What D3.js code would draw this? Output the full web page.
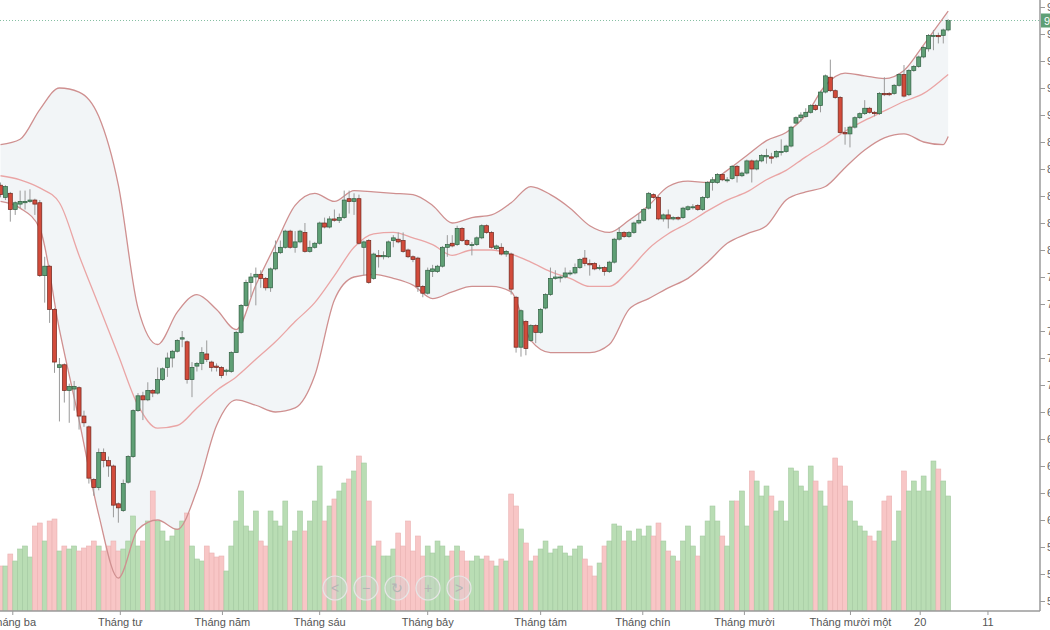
<!DOCTYPE html>
<html>
<head>
<meta charset="utf-8">
<script src="https://cdn.jsdelivr.net/npm/d3@7"></script>
<style>
  html, body { margin: 0; padding: 0; background: #fff; overflow: hidden; }
  svg { display: block; font-family: "Liberation Sans", Arial, sans-serif; }
</style>
</head>
<body>
<svg id="chart" width="1050" height="630"></svg>
<script>
// ---- daily candles (index 0 = first visible session) ----
const open = [
  84.8, 83.9, 84.2, 83.0, 83.4, 83.5, 83.6, 83.7, 83.5, 78.1,
  78.8, 75.6, 71.3, 71.5, 69.6, 69.7, 69.8, 67.7, 66.9, 63.0,
  62.4, 65.0, 64.4, 64.0, 61.2, 60.7, 62.8, 64.7, 68.1, 69.2,
  68.9, 69.6, 69.4, 70.4, 71.3, 72.0, 72.5, 73.4, 73.2, 70.4,
  71.4, 71.6, 72.3, 71.7, 71.4, 71.3, 71.0, 71.0, 72.4, 73.9,
  75.9, 77.6, 78.0, 78.2, 77.9, 77.2, 78.6, 79.8, 80.2, 81.4,
  80.2, 80.6, 81.3, 79.9, 80.2, 80.5, 82.0, 81.7, 82.3, 82.2,
  82.4, 83.8, 83.6, 83.8, 80.2, 80.7, 77.9, 79.6, 79.5, 79.5,
  80.7, 80.8, 80.7, 80.0, 79.5, 79.4, 77.3, 76.8, 78.4, 78.4,
  78.8, 80.2, 80.5, 80.4, 81.6, 80.7, 80.4, 80.4, 80.9, 81.8,
  81.3, 80.1, 80.2, 79.7, 79.7, 76.5, 72.8, 74.7, 73.3, 74.4,
  73.9, 75.7, 76.7, 77.9, 78.0, 78.0, 78.3, 78.3, 78.7, 79.4,
  79.0, 79.0, 78.7, 78.7, 78.4, 79.1, 80.8, 81.3, 81.0, 81.3,
  82.0, 82.2, 83.1, 84.1, 83.9, 82.3, 82.6, 82.3, 82.4, 82.4,
  83.0, 83.2, 83.3, 83.0, 83.9, 85.0, 85.0, 85.6, 85.2, 85.3,
  86.2, 85.5, 85.7, 86.6, 86.0, 86.6, 86.9, 86.9, 86.9, 87.3,
  87.3, 87.7, 89.4, 89.8, 89.9, 90.2, 90.7, 90.7, 91.7, 92.8,
  91.8, 91.3, 88.7, 88.6, 89.1, 89.8, 90.1, 90.5, 90.2, 90.1,
  91.6, 91.6, 91.6, 92.2, 93.0, 91.5, 93.3, 93.6, 94.3, 94.9,
  95.9, 95.9, 95.9, 96.3
];
const high = [
  85.0, 84.8, 84.3, 83.6, 84.4, 84.4, 84.5, 83.8, 83.7, 79.5,
  78.9, 75.7, 72.0, 71.6, 70.1, 70.3, 69.9, 68.1, 67.0, 63.1,
  65.3, 65.3, 64.7, 64.1, 61.3, 63.0, 64.8, 68.2, 69.4, 69.5,
  70.2, 69.7, 71.3, 71.3, 72.4, 72.6, 73.4, 74.0, 73.3, 71.7,
  71.7, 72.8, 73.3, 71.8, 71.6, 71.4, 71.2, 72.5, 74.0, 76.0,
  77.8, 78.3, 78.7, 78.5, 78.0, 78.7, 80.7, 80.7, 81.5, 81.5,
  81.4, 81.5, 82.0, 80.7, 80.6, 82.1, 82.4, 82.5, 83.0, 82.7,
  84.4, 84.4, 84.2, 84.1, 80.7, 80.8, 79.8, 80.0, 79.9, 80.7,
  81.1, 81.3, 81.3, 80.1, 79.6, 79.5, 77.4, 78.7, 78.9, 78.9,
  80.3, 81.1, 81.1, 81.8, 81.7, 80.8, 80.6, 81.0, 81.9, 81.9,
  81.4, 80.4, 80.5, 80.0, 79.8, 76.6, 75.6, 74.8, 74.5, 74.5,
  75.7, 76.8, 78.7, 78.5, 78.1, 78.7, 78.5, 79.0, 79.4, 80.0,
  79.3, 79.1, 78.9, 78.8, 79.2, 80.9, 81.7, 81.4, 81.4, 82.1,
  82.7, 83.1, 84.3, 84.2, 84.0, 82.7, 83.0, 82.5, 82.5, 83.2,
  83.3, 83.4, 83.4, 84.0, 85.1, 85.4, 85.7, 85.7, 85.4, 86.3,
  86.3, 85.8, 86.7, 86.7, 86.7, 87.1, 87.5, 87.2, 87.4, 88.2,
  87.8, 89.2, 89.9, 90.2, 90.5, 90.8, 90.8, 91.8, 93.0, 94.1,
  91.9, 91.4, 89.1, 89.2, 89.9, 90.2, 91.1, 90.6, 90.3, 91.7,
  92.8, 91.7, 92.3, 93.1, 93.7, 93.4, 93.7, 94.4, 95.1, 96.0,
  96.3, 96.1, 96.4, 97.1
];
const low = [
  83.9, 83.7, 82.1, 82.6, 83.1, 83.0, 83.5, 82.6, 78.0, 76.1,
  74.6, 70.9, 67.3, 68.7, 67.2, 68.1, 66.7, 66.9, 62.7, 61.8,
  62.2, 63.9, 63.2, 60.2, 59.8, 60.6, 62.7, 64.6, 68.0, 67.4,
  68.8, 69.1, 69.3, 70.3, 70.6, 71.3, 72.4, 72.8, 70.1, 69.1,
  71.0, 71.1, 71.7, 71.0, 71.0, 70.5, 70.7, 70.9, 72.4, 73.8,
  75.8, 76.5, 75.9, 77.2, 77.0, 76.9, 78.5, 79.7, 80.1, 80.1,
  79.8, 80.5, 79.8, 79.8, 80.1, 80.4, 81.6, 81.6, 82.1, 82.0,
  82.3, 82.7, 82.6, 80.4, 78.1, 77.5, 77.8, 78.7, 79.3, 79.4,
  80.2, 80.5, 79.8, 79.4, 79.1, 76.9, 76.5, 76.7, 78.0, 78.3,
  78.7, 79.5, 80.2, 80.3, 80.6, 80.3, 79.6, 80.3, 80.8, 81.2,
  80.1, 80.0, 79.6, 79.5, 76.7, 72.4, 72.1, 72.2, 73.2, 73.1,
  73.8, 75.6, 76.6, 77.8, 77.6, 77.9, 78.1, 78.2, 78.6, 78.8,
  78.1, 78.5, 78.5, 78.1, 78.3, 79.0, 80.7, 80.9, 80.9, 81.2,
  81.9, 82.1, 83.0, 83.8, 82.2, 82.1, 81.6, 82.2, 82.2, 82.3,
  82.9, 83.0, 82.9, 82.9, 83.8, 84.4, 84.9, 85.1, 85.0, 85.2,
  85.0, 85.4, 85.6, 85.0, 85.9, 86.5, 86.4, 86.4, 86.8, 87.0,
  87.2, 87.6, 89.3, 89.5, 89.8, 90.1, 90.3, 90.2, 91.6, 91.7,
  91.2, 88.6, 87.8, 87.6, 89.0, 89.7, 90.0, 90.1, 89.9, 90.0,
  91.4, 91.4, 91.5, 92.1, 91.3, 91.4, 93.2, 93.5, 94.2, 94.7,
  94.8, 95.3, 95.3, 96.2
];
const close = [
  84.1, 84.7, 83.0, 83.5, 83.6, 83.6, 83.7, 83.4, 78.1, 78.8,
  75.6, 71.7, 71.5, 69.6, 69.9, 69.9, 67.7, 67.2, 63.1, 62.4,
  65.0, 64.4, 64.0, 61.1, 60.9, 62.7, 64.7, 68.1, 69.2, 68.9,
  69.6, 69.4, 70.4, 71.2, 72.0, 72.5, 73.3, 73.5, 70.4, 71.3,
  71.6, 72.4, 71.9, 71.3, 71.3, 70.7, 71.1, 72.4, 73.9, 75.9,
  77.6, 78.0, 78.2, 77.9, 77.2, 78.6, 79.8, 80.2, 81.4, 80.2,
  80.6, 81.4, 79.9, 80.2, 80.5, 82.0, 81.7, 82.3, 82.2, 82.4,
  83.7, 83.6, 83.8, 80.5, 80.6, 77.6, 79.7, 79.5, 79.6, 80.6,
  80.9, 80.6, 79.9, 79.5, 79.3, 77.3, 76.8, 78.5, 78.6, 78.8,
  80.2, 80.4, 80.3, 81.6, 80.7, 80.4, 80.4, 80.9, 81.8, 81.3,
  80.2, 80.3, 79.7, 79.9, 77.1, 72.8, 75.5, 72.7, 74.4, 73.9,
  75.6, 76.7, 77.9, 78.0, 78.0, 78.3, 78.3, 78.7, 79.3, 79.0,
  78.9, 78.6, 78.7, 78.4, 79.1, 80.8, 81.3, 81.0, 81.3, 82.0,
  82.2, 83.0, 84.2, 83.9, 82.3, 82.6, 82.3, 82.4, 82.3, 83.1,
  83.2, 83.2, 83.0, 83.9, 85.0, 85.2, 85.6, 85.2, 85.2, 86.2,
  85.5, 85.7, 86.6, 86.0, 86.6, 87.0, 87.0, 86.8, 87.3, 87.3,
  87.7, 89.1, 89.8, 90.0, 90.2, 90.7, 90.4, 91.7, 92.9, 91.8,
  91.3, 88.7, 88.6, 89.1, 89.8, 90.1, 90.5, 90.2, 90.1, 91.6,
  91.5, 91.5, 92.2, 93.0, 91.4, 93.3, 93.6, 94.3, 95.0, 95.9,
  95.9, 95.8, 96.3, 97.0
];
const volume = [
  45, 45, 57, 50, 62, 65, 54, 85, 88, 70,
  90, 92, 60, 65, 62, 65, 60, 63, 65, 70,
  65, 60, 65, 70, 60, 62, 70, 95, 65, 70,
  90, 120, 90, 80, 70, 75, 82, 90, 98, 65,
  52, 50, 65, 58, 54, 55, 40, 65, 90, 120,
  85, 80, 100, 70, 65, 100, 90, 85, 110, 70,
  80, 100, 80, 90, 110, 145, 90, 105, 112, 120,
  128, 132, 140, 155, 148, 110, 65, 70, 55, 55,
  62, 78, 65, 90, 60, 75, 55, 65, 58, 70,
  65, 55, 60, 65, 60, 50, 50, 55, 52, 55,
  50, 45, 52, 50, 117, 105, 82, 68, 50, 55,
  62, 70, 58, 62, 65, 58, 55, 62, 65, 52,
  45, 35, 48, 65, 70, 87, 85, 70, 80, 70,
  82, 75, 85, 75, 88, 70, 60, 55, 50, 70,
  85, 65, 55, 75, 90, 105, 90, 75, 65, 110,
  110, 120, 85, 140, 130, 115, 125, 115, 100, 110,
  90, 143, 140, 125, 120, 145, 130, 120, 105, 130,
  153, 145, 125, 110, 90, 85, 80, 75, 70, 80,
  110, 115, 70, 100, 140, 120, 130, 120, 135, 120,
  150, 142, 130, 115
];

// ---- Bollinger bands, read every 4 sessions ----
const bandIdx = [
  0, 4, 8, 12, 16, 20, 24, 28, 32, 36, 40, 44, 48, 52, 56, 60, 64, 68, 72, 76,
  80, 84, 88, 92, 96, 100, 104, 108, 112, 116, 120, 124, 128, 132, 136, 140,
  144, 148, 152, 156, 160, 164, 168, 172, 176, 180, 184, 188, 192, 193
];
const upper = [
  87.8, 88.2, 90.4, 92.0, 91.7, 89.9, 84.8, 75.7, 73.0, 75.4,
  76.7, 75.6, 74.1, 77.4, 80.4, 83.3, 84.2, 83.6, 84.4, 84.3,
  84.2, 84.1, 83.3, 82.0, 82.4, 82.6, 83.5, 84.7, 84.1, 83.1,
  81.8, 81.3, 82.2, 83.3, 84.7, 85.1, 85.0, 85.9, 87.0, 88.1,
  88.7, 90.0, 92.2, 93.1, 92.9, 92.7, 93.3, 95.2, 97.2, 97.7
];
const middle = [
  85.5, 85.2, 84.6, 83.5, 79.6, 75.9, 72.2, 68.5, 66.8, 67.0,
  68.3, 69.6, 70.6, 71.9, 73.2, 74.7, 76.1, 78.1, 80.2, 81.2,
  81.3, 80.9, 80.4, 79.6, 80.0, 80.0, 79.7, 79.1, 78.4, 77.9,
  77.3, 77.3, 78.5, 80.1, 81.2, 82.0, 82.9, 83.7, 84.3, 85.2,
  85.9, 86.9, 87.8, 88.8, 89.6, 90.3, 91.0, 91.6, 92.7, 93.0
];
const lower = [
  83.6, 83.1, 81.6, 74.1, 67.4, 60.4, 55.7, 59.3, 60.0, 59.3,
  62.2, 67.0, 68.9, 68.5, 68.0, 68.3, 70.7, 76.3, 78.0, 78.2,
  77.9, 77.4, 76.4, 76.9, 77.3, 77.3, 76.9, 73.3, 72.4, 72.4,
  72.4, 73.0, 75.6, 76.4, 77.2, 77.9, 79.1, 80.5, 81.2, 81.8,
  83.7, 84.3, 84.7, 86.1, 87.4, 88.3, 88.6, 88.0, 87.8, 88.4
];

// ---- axes ----
const priceTicks = d3.range(54, 99, 2);
const monthLabels = ["Tháng ba", "Tháng tư", "Tháng năm", "Tháng sáu", "Tháng bảy",
  "Tháng tám", "Tháng chín", "Tháng mười", "Tháng mười một", "20", "11"];
const monthIdx = [2.4, 24.3, 45.1, 64.9, 86.9, 109.9, 130.7, 151.4, 173, 187.2, 201];

const UP = "#5f9f75", UP_LINE = "#2f5e40";
const DOWN = "#d24b3b", DOWN_LINE = "#6e261d";
const VOL_UP = "#b9ddb4", VOL_DOWN = "#f8c6c6";

const svg = d3.select("#chart");
const plotRight = 1040, plotBottom = 611;

const x = d3.scaleLinear().domain([0, 211.7]).range([0.5, plotRight]);
const y = d3.scaleLinear().domain([54, 98]).range([601, 7]);
const yVol = d3.scaleLinear().domain([0, 160]).range([plotBottom, plotBottom - 160]);
const step = x(1) - x(0);

svg.append("defs").append("clipPath").attr("id", "plot")
  .append("rect").attr("x", 0).attr("y", 0).attr("width", plotRight).attr("height", plotBottom);

const plot = svg.append("g").attr("clip-path", "url(#plot)");

// band fill
const bandArea = d3.area()
  .x((d, i) => x(bandIdx[i]))
  .y0((d, i) => y(lower[i]))
  .y1((d, i) => y(upper[i]))
  .curve(d3.curveMonotoneX);
plot.append("path").datum(bandIdx).attr("d", bandArea).attr("fill", "#f2f5f7");

// volume bars
const isUp = i => close[i] >= open[i];
plot.append("g").selectAll("rect")
  .data(volume)
  .join("rect")
  .attr("x", (d, i) => x(i) - step / 2)
  .attr("width", step)
  .attr("y", d => yVol(d))
  .attr("height", d => yVol(0) - yVol(d))
  .attr("fill", (d, i) => isUp(i) ? VOL_UP : VOL_DOWN)
  .attr("stroke", (d, i) => isUp(i) ? "#a3c9a0" : "#e9b2b2")
  .attr("stroke-width", 0.6);

// band lines
const bandLine = vals => d3.line()
  .x((d, i) => x(bandIdx[i]))
  .y((d, i) => y(vals[i]))
  .curve(d3.curveMonotoneX)(bandIdx);
plot.append("path").attr("d", bandLine(upper)).attr("fill", "none")
  .attr("stroke", "#cf9090").attr("stroke-width", 1.3);
plot.append("path").attr("d", bandLine(lower)).attr("fill", "none")
  .attr("stroke", "#cf9090").attr("stroke-width", 1.3);
plot.append("path").attr("d", bandLine(middle)).attr("fill", "none")
  .attr("stroke", "#eaa5a5").attr("stroke-width", 1.3);

// candles
const candles = plot.append("g").selectAll("g")
  .data(close)
  .join("g");
candles.append("line")
  .attr("x1", (d, i) => x(i)).attr("x2", (d, i) => x(i))
  .attr("y1", (d, i) => y(high[i])).attr("y2", (d, i) => y(low[i]))
  .attr("stroke", "#9a9a9a").attr("stroke-width", 1);
candles.append("rect")
  .attr("x", (d, i) => x(i) - 2)
  .attr("width", 4)
  .attr("y", (d, i) => y(Math.max(open[i], close[i])))
  .attr("height", (d, i) => Math.max(1, Math.abs(y(open[i]) - y(close[i]))))
  .attr("fill", (d, i) => isUp(i) ? UP : DOWN)
  .attr("stroke", (d, i) => isUp(i) ? UP_LINE : DOWN_LINE)
  .attr("stroke-width", 0.7);

// last price line
const last = close[close.length - 1];
svg.append("line")
  .attr("x1", 0).attr("x2", plotRight)
  .attr("y1", y(last)).attr("y2", y(last))
  .attr("stroke", "#86bfa3").attr("stroke-width", 1).attr("stroke-dasharray", "1,2");

// navigation buttons
const navX = [335, 366, 397, 428, 459];
const navSym = ["<", "−", "↻", "+", ">"];
const nav = svg.append("g");
navX.forEach((nx, k) => {
  nav.append("circle").attr("cx", nx).attr("cy", 588).attr("r", 12)
    .attr("fill", "#d0d0d0").attr("fill-opacity", 0.35)
    .attr("stroke", "#e6e6e6").attr("stroke-width", 1.2);
  nav.append("text").attr("x", nx).attr("y", 593).attr("text-anchor", "middle")
    .attr("font-size", 14).attr("fill", "#b5b5b5").text(navSym[k]);
});

// right price axis
const yAxis = svg.append("g")
  .attr("transform", `translate(${plotRight},0)`)
  .call(d3.axisRight(y).tickValues(priceTicks).tickSize(5).tickPadding(2).tickFormat(d3.format(".2f")));
yAxis.select(".domain").attr("stroke", "#9a9a9a").attr("stroke-width", 1.5)
  .attr("d", `M0,0V${plotBottom}`);
yAxis.selectAll(".tick line").attr("stroke", "#9a9a9a");
yAxis.selectAll(".tick text").attr("fill", "#666").attr("font-size", 11)
  .attr("font-family", "\"Liberation Sans\", Arial, sans-serif");

// last price tag
svg.append("rect").attr("x", plotRight + 1).attr("y", y(last) - 7)
  .attr("width", 40).attr("height", 14).attr("fill", "#5f9f75");
svg.append("text").attr("x", plotRight + 4).attr("y", y(last) + 4)
  .attr("font-size", 11).attr("fill", "#fff").text(last.toFixed(2));

// bottom time axis
const xAxis = svg.append("g")
  .attr("transform", `translate(0,${plotBottom})`)
  .call(d3.axisBottom(x).tickValues(monthIdx).tickSize(4).tickPadding(3)
    .tickFormat((d, i) => monthLabels[i]));
xAxis.select(".domain").attr("stroke", "#9a9a9a").attr("stroke-width", 1.5)
  .attr("d", `M0,0H${plotRight}`);
xAxis.selectAll(".tick line").attr("stroke", "#9a9a9a");
xAxis.selectAll(".tick text").attr("fill", "#555").attr("font-size", 11)
  .attr("font-family", "\"Liberation Sans\", Arial, sans-serif");
</script>
</body>
</html>
